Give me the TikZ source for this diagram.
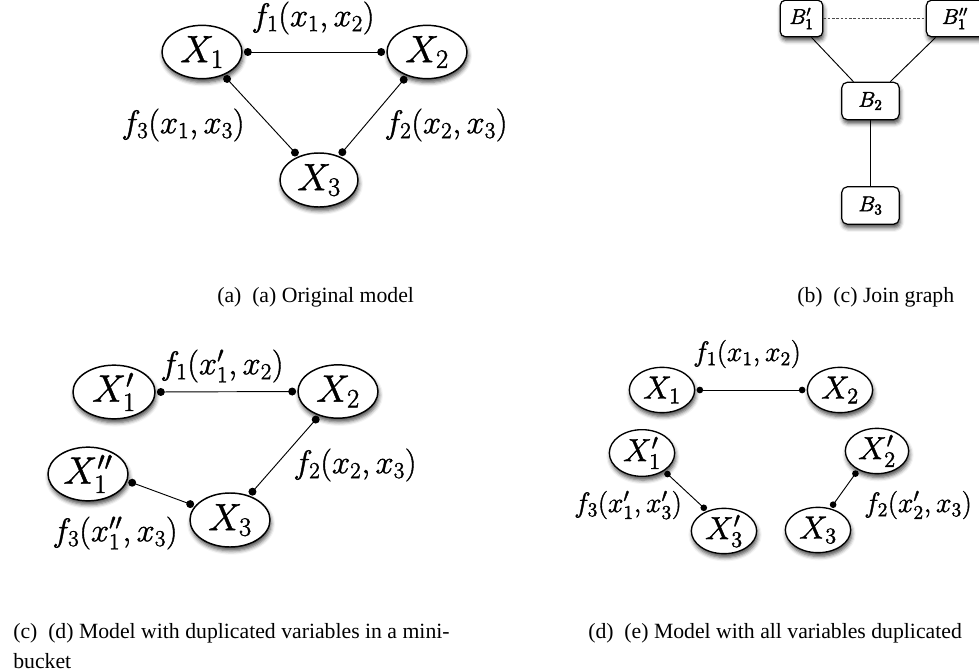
\RequirePackage{fix-cm}
\documentclass[tikz,border=0pt]{standalone}
\usepackage{fontspec}
\newfontfamily\capfont{Liberation Serif}
\usetikzlibrary{shapes.geometric,shadows.blur,calc}
\newcommand\thk[1]{\special{pdf:literal direct 2 Tr 0.3 w}#1\special{pdf:literal direct 0 Tr}}
\newcommand\conn[4]{%
  \coordinate (p1) at ($(#1)!#3!(#2)$);
  \coordinate (p2) at ($(#2)!#3!(#1)$);
  \draw[link] (p1) -- (p2);
  \fill (p1) circle[radius=#4];
  \fill (p2) circle[radius=#4];}
\begin{document}
\begin{tikzpicture}[x=0.75pt,y=-0.75pt,
  shd/.style={blur shadow={shadow xshift=0.8pt,shadow yshift=-2.8pt,shadow blur radius=3pt,shadow opacity=70}},
  var/.style={ellipse,draw,line width=1.1pt,fill=white,inner sep=0pt,minimum width=60pt,minimum height=40pt,font=\fontsize{28.5}{32}\selectfont,shd},
  varS/.style={var,line width=1pt,minimum width=49pt,minimum height=34pt,font=\fontsize{24}{28}\selectfont},
  bucketbox/.style={draw,rounded corners=4pt,line width=0.9pt,fill=white,inner sep=0pt,minimum width=43pt,minimum height=28pt,font=\fontsize{16}{18}\selectfont,shd},
  lab/.style={inner sep=0pt,font=\fontsize{24.5}{29}\selectfont},
  labS/.style={inner sep=0pt,font=\fontsize{21}{25}\selectfont},
  link/.style={line width=0.7pt},
  dashlink/.style={line width=0.6pt,dash pattern=on 2pt off 1.2pt,black!70},
  captxt/.style={inner sep=0pt,anchor=base west,font=\capfont\fontsize{16.3}{22.5}\selectfont},
]
\useasboundingbox (0,0) rectangle (979,671);
% (a)
\node[var] (aX1) at (202,52) {\thk{$X_1$}};
\node[var] (aX2) at (427,52) {\thk{$X_2$}};
\node[var,minimum width=58.5pt,minimum height=40.5pt] (aX3) at (319,180) {\thk{$X_3$}};
\conn{aX1.0}{aX2.180}{3.8pt}{3pt}
\conn{aX1.-47}{aX3.131}{3.8pt}{3pt}
\conn{aX2.-130}{aX3.50}{3.8pt}{3pt}
\node[lab] (af1) at (313,18) {\thk{$f_1(x_1,x_2)$}};
\node[lab] (af3) at (183,125) {\thk{$f_3(x_1,x_3)$}};
\node[lab] (af2) at (446,125) {\thk{$f_2(x_2,x_3)$}};
% (b)
\node[bucketbox,minimum width=32pt,minimum height=27.5pt] (B1p) at (801.5,18.5) {\thk{$B_1'$}};
\node[bucketbox,minimum height=27.5pt] (B1pp) at (955,18.5) {\thk{$B_1''$}};
\node[bucketbox] (B2) at (870.5,101) {\thk{$B_2$}};
\node[bucketbox] (B3) at (870.5,205.5) {\thk{$B_3$}};
\draw[dashlink] (B1p) -- (B1pp);
\draw[link] ($(B1p.south)+(10,0)$) -- ($(B2.north)+(-17,0)$);
\draw[link] (B1pp) -- (B2);
\draw[link] (B2) -- (B3);
% (c)
\node[var,minimum width=61.5pt,minimum height=38.5pt] (cX1p) at (114,392) {\thk{$X_1'$}};
\node[var] (cX2) at (338,391.5) {\thk{$X_2$}};
\node[var] (cX1pp) at (88,474) {\thk{$X_1''$}};
\node[var,minimum height=40.5pt] (cX3) at (230,520) {\thk{$X_3$}};
\conn{cX1p.0}{cX2.180}{3.8pt}{3pt}
\conn{cX2.-128}{cX3.52}{3.8pt}{3pt}
\conn{cX1pp.-10}{cX3.158}{3.8pt}{3pt}
\node[lab] (cf1) at (222,366) {\thk{$f_1(x_1',x_2)$}};
\node[lab] (cf2) at (355,465) {\thk{$f_2(x_2,x_3)$}};
\node[lab] (cf3) at (115,533) {\thk{$f_3(x_1'',x_3)$}};
% (d)
\node[varS] (dX1) at (662,390) {\thk{$X_1$}};
\node[varS] (dX2) at (840,390) {\thk{$X_2$}};
\node[varS,minimum height=35pt] (dX1p) at (642,453) {\thk{$X_1'$}};
\node[varS,minimum width=47.5pt] (dX2p) at (877,451) {\thk{$X_2'$}};
\node[varS] (dX3p) at (724,531) {\thk{$X_3'$}};
\node[varS] (dX3) at (818,530) {\thk{$X_3$}};
\conn{dX1.0}{dX2.180}{3.4pt}{2.5pt}
\conn{dX1p.-39}{dX3p.130}{3.4pt}{2.5pt}
\conn{dX2p.-135}{dX3.60}{3.4pt}{2.5pt}
\node[labS] (df1) at (747,354) {\thk{$f_1(x_1,x_2)$}};
\node[labS] (df3) at (628,505) {\thk{$f_3(x_1',x_3')$}};
\node[labS] (df2) at (918,505) {\thk{$f_2(x_2',x_3)$}};
% captions
\node[captxt] (capa) at (217,302) {(a)\enspace(a) Original model};
\node[captxt] (capb) at (797,302) {(b)\enspace(c) Join graph};
\node[captxt] (capc) at (13,638) {(c)\enspace(d) Model with duplicated variables in a mini-};
\node[captxt] (capc2) at (13,668) {bucket};
\node[captxt] (capd) at (588,638) {(d)\enspace(e) Model with all variables duplicated};
\end{tikzpicture}
\end{document}
